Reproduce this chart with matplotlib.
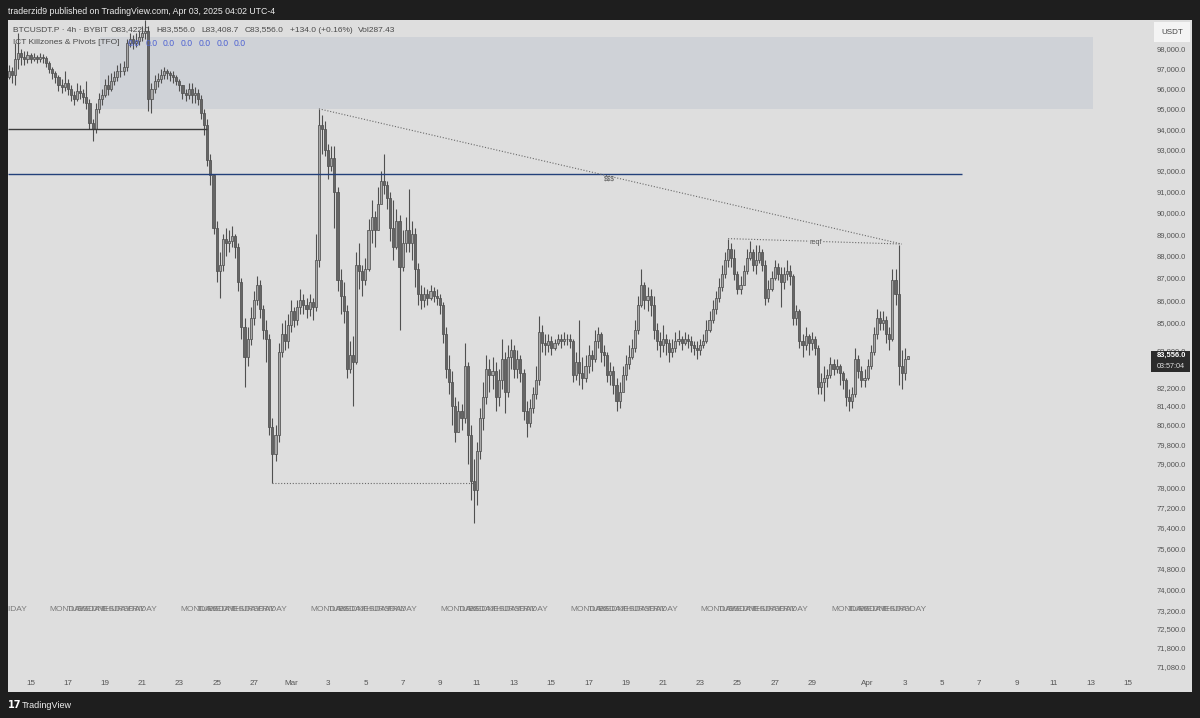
import numpy as np
import pandas as pd
import matplotlib
matplotlib.use("Agg")
import matplotlib.pyplot as plt
from matplotlib.patches import Rectangle
from matplotlib.ticker import FixedLocator, FuncFormatter, NullLocator

# ---------------- data (BTCUSDT.P 4h, Bybit) ----------------
first_open = 96600
closes = [
    96900, 96700, 97500, 97800, 97600, 97500, 97700, 97500, 97600, 97500,
    97600, 97550, 97300, 97000, 96800, 96600, 96200, 96100, 96300, 96000,
    95700, 95500, 95900, 95800, 95600, 95300, 94300, 94000, 95000, 95500,
    95700, 96200, 96000, 96400, 96600, 96900, 96900, 97100, 98300, 98500,
    98300, 98400, 98600, 98800, 98900, 95500, 96000, 96400, 96500, 96700,
    96900, 96800, 96700, 96600, 96400, 96200, 95800, 95700, 96000, 95700,
    95800, 95500, 94800, 94200, 92500, 91800, 89300, 87300, 87600, 88800,
    88600, 88700, 88900, 88400, 86800, 84800, 83500, 84300, 85200, 86000,
    86700, 85600, 84700, 84300, 80500, 79400, 80200, 83700, 84500, 84200,
    84900, 85500, 85100, 85700, 86000, 85800, 85600, 85900, 85700, 87800,
    94200, 94000, 93000, 92200, 92600, 91000, 86900, 86200, 85500, 83000,
    83600, 83300, 87600, 87300, 86900, 87400, 89200, 89800, 89200, 90400,
    91500, 91300, 90700, 89300, 88400, 89600, 87500, 88600, 89200, 88600,
    89000, 87400, 86300, 86000, 86300, 86100, 86400, 86200, 86100, 85800,
    84500, 83000, 82400, 81400, 80300, 81200, 80900, 83100, 80200, 78300,
    77900, 79500, 80900, 81800, 83000, 82700, 82900, 81800, 82500, 83400,
    82000, 83500, 83800, 83000, 83400, 82800, 81200, 80700, 81300, 81900,
    82500, 84600, 84100, 84000, 84200, 83900, 84100, 84300, 84200, 84300,
    84300, 84200, 82700, 83300, 82800, 82600, 83100, 83600, 83400, 84200,
    84500, 83700, 83600, 82700, 82900, 82300, 81600, 82000, 82700, 83200,
    83500, 83900, 84700, 85800, 86700, 86000, 86200, 85800, 84700, 84200,
    84000, 84300, 84100, 83700, 83900, 84200, 84300, 84100, 84300, 84200,
    84000, 83900, 83800, 84000, 84200, 84700, 85100, 85600, 86100, 86600,
    87200, 87800, 88300, 87900, 87200, 86500, 86700, 87300, 87900, 88200,
    87600, 87800, 88200, 87600, 86100, 86500, 87000, 87500, 87200, 86800,
    87200, 87300, 87100, 85200, 85500, 84200, 84000, 84400, 84100, 84300,
    83900, 82200, 82400, 82600, 82700, 83200, 83000, 83100, 82800, 82500,
    81800, 81600, 81900, 83400, 82900, 82500, 82600, 83100, 83700, 84500,
    85200, 85000, 85100, 84500, 84300, 86900, 86300, 83100, 82800, 83422,
    83556,
]
highs = [
    97200, 97100, 98300, 98800, 98000, 97900, 97900, 97800, 97800, 97700,
    97800, 97750, 97650, 97400, 97100, 96900, 96700, 96500, 96900, 96500,
    96200, 95900, 96300, 96200, 96000, 96400, 95500, 94500, 95300, 95800,
    96000, 96500, 96700, 96800, 96900, 97200, 97300, 97400, 98500, 98800,
    98700, 98800, 98900, 99200, 99500, 99200, 96300, 96700, 96800, 97000,
    97100, 97000, 96900, 96900, 96700, 96500, 96200, 96000, 96300, 96300,
    96100, 96000, 95700, 95000, 94500, 92800, 91800, 89600, 88200, 89000,
    89300, 89200, 89400, 89000, 88600, 87000, 85200, 84800, 85700, 86400,
    87100, 86900, 85800, 85100, 84500, 80900, 80600, 84100, 85000, 85100,
    85400, 86000, 85700, 86000, 86500, 86300, 86100, 86300, 86100, 89000,
    95000, 94700, 94400, 93300, 93200, 93200, 91200, 87400, 86800, 85800,
    84200, 84400, 88200, 88600, 87600, 87900, 89700, 90600, 90100, 91200,
    92000, 92800, 91500, 91000, 90600, 90200, 89900, 89200, 89800, 91100,
    89600, 89300, 87700, 86700, 86600, 86500, 86700, 86600, 86500, 86300,
    85900, 84800, 83600, 82900, 81800, 81600, 81500, 84100, 83300, 80600,
    79200, 79900, 81300, 82400, 83600, 83400, 83500, 83300, 83000, 84300,
    83700, 84000, 84300, 84000, 83800, 83600, 83000, 81600, 81700, 82200,
    83100, 85300, 84900, 84500, 84500, 84400, 84300, 84500, 84500, 84600,
    84500, 84500, 84300, 83700, 85100, 83500, 83600, 84000, 83800, 84700,
    84800, 84600, 84000, 83700, 83300, 83100, 82600, 82400, 83100, 83600,
    84000, 84300, 85100, 86200, 87400, 86800, 86600, 86500, 86200, 85000,
    84600, 84900, 84500, 84300, 84300, 84600, 84700, 84400, 84600, 84500,
    84400, 84200, 84200, 84300, 84500, 85100, 85500, 86000, 86400, 87000,
    87600, 88200, 88800, 88600, 88300, 87300, 87100, 87600, 88300, 88700,
    88300, 88500, 88500, 88300, 87800, 86900, 87300, 87800, 87700, 87500,
    87500, 87800, 87600, 87200, 85800, 85600, 84500, 84800, 84500, 84600,
    84400, 84000, 82800, 83100, 83000, 83500, 83400, 83400, 83200, 82900,
    82600, 82100, 82200, 83900, 83600, 83100, 83000, 83400, 84000, 84800,
    85600, 85500, 85500, 85300, 84800, 87400, 87400, 88500, 83800, 83900,
    83556,
]
lows = [
    96500, 96300, 96200, 97000, 97200, 97200, 97300, 97300, 97400, 97300,
    97350, 97300, 97100, 96800, 96500, 96300, 95900, 95800, 95900, 95700,
    95400, 95200, 95400, 95500, 95300, 95000, 94000, 93400, 93800, 94800,
    95200, 95600, 95700, 95900, 96200, 96400, 96600, 96700, 96900, 98100,
    98000, 98100, 98200, 98400, 98500, 94900, 94800, 95800, 96100, 96300,
    96500, 96500, 96400, 96300, 96200, 95900, 95500, 95400, 95500, 95300,
    95300, 95200, 94500, 93700, 92200, 91300, 89000, 86800, 86100, 87300,
    88000, 88200, 88400, 87900, 86400, 84300, 82200, 83100, 84000, 84900,
    85800, 85200, 84300, 83300, 80200, 78200, 79100, 79900, 83500, 83800,
    83900, 84600, 84800, 84900, 85400, 85400, 85200, 85300, 85100, 85500,
    87500, 92800, 92700, 91600, 92000, 89300, 86400, 85400, 85000, 82600,
    82800, 81400, 83200, 86500, 86200, 86700, 87300, 88600, 88400, 89200,
    90500, 90900, 90200, 88700, 87800, 88300, 84700, 87300, 88200, 88200,
    87800, 86600, 85800, 85600, 85700, 85800, 86000, 85900, 85800, 85400,
    84100, 82600, 81900, 80600, 79900, 80300, 80400, 80700, 79000, 77500,
    76600, 77300, 79200, 80400, 81500, 82000, 82100, 81200, 81400, 82100,
    81100, 81800, 83000, 82600, 82600, 82400, 80800, 80100, 80500, 81100,
    81700, 82300, 83700, 83600, 83700, 83600, 83800, 84000, 83900, 84000,
    84000, 83900, 82400, 82500, 82300, 82100, 82400, 82800, 82900, 83300,
    83900, 83300, 83100, 82400, 82300, 81900, 81200, 81300, 82300, 82500,
    83000, 83400, 83700, 84500, 85700, 85600, 85500, 85300, 84300, 83800,
    83500, 83700, 83600, 83300, 83500, 83700, 84000, 83800, 84000, 83900,
    83700, 83600, 83400, 83600, 83900, 84100, 84600, 85000, 85400, 85900,
    86400, 87000, 87500, 87500, 86900, 86300, 86300, 86800, 87200, 87800,
    87300, 87200, 87700, 87300, 85800, 85900, 86400, 86900, 86900, 85700,
    86500, 86900, 86700, 84900, 84900, 83900, 83500, 83800, 83600, 83800,
    83600, 81900, 81900, 81600, 82200, 82600, 82700, 82800, 82300, 82100,
    81400, 81200, 81300, 81800, 82600, 82200, 82200, 82500, 83000, 83600,
    84300, 84700, 84700, 84100, 83800, 84200, 85800, 82300, 82100, 82500,
    83408.7,
]

# time axis: candle index 0 = Feb 13 20:00 (UTC-4); one day = 6 candles
day_tick_offsets = [0, 2, 4, 6, 8, 10, 12, 14, 16, 18, 20, 22, 24, 26, 28, 30,
                    32, 34, 36, 38, 40, 42, 45, 47, 49, 51, 53, 55, 57, 59]
day_tick_labels = ["15", "17", "19", "21", "23", "25", "27", "Mar", "3", "5", "7",
                   "9", "11", "13", "15", "17", "19", "21", "23", "25", "27", "29",
                   "Apr", "3", "5", "7", "9", "11", "13", "15"]
price_ticks = [98000, 97000, 96000, 95000, 94000, 93000, 92000, 91000, 90000,
               89000, 88000, 87000, 86000, 85000, 83800, 82200, 81400, 80600,
               79800, 79000, 78000, 77200, 76400, 75600, 74800, 74000, 73200,
               72500, 71800, 71080]

# drawings
zone_low, zone_high = 95000, 98600
zone_start, zone_end = 29.4, 349.7
pivot_level, pivot_end = 94000, 64
blue_level, blue_end = 91830, 307.5
trend_x, trend_y = [100, 288], [95000, 88550]
reqf_x, reqf_y = [232, 288], [88800, 88550]
ssl_x, ssl_y = [85, 151], [78200, 78200]
last_price = 83556.0

# ---------------- figure ----------------
W, H = 1200, 718
fig = plt.figure(figsize=(12, 7.18), dpi=100, facecolor="#1e1e1e")
FONT = "Liberation Sans"


def fx(px):
    return px / W


def fy(py):
    return 1 - py / H


fig.patches.append(Rectangle((fx(8), fy(692)), (1192 - 8) / W, (692 - 20) / H,
                             transform=fig.transFigure, facecolor="#dedede",
                             edgecolor="none", zorder=-5))

ax = fig.add_axes([fx(8), fy(672), (1148 - 8) / W, (672 - 20) / H])
ax.set_facecolor("none")
ax.set_yscale("log")
ax.set_ylim(70885, 99489)
ax.set_xlim(-0.29, 367.45)
for s in ax.spines.values():
    s.set_visible(False)

o = np.array([first_open] + closes[:-1], dtype=float)
c = np.array(closes, dtype=float)
h = np.array(highs, dtype=float)
l = np.array(lows, dtype=float)
idx = np.arange(len(c))
up = c >= o

# zone
ax.add_patch(Rectangle((zone_start, zone_low), zone_end - zone_start, zone_high - zone_low,
                       facecolor="#cfd2d7", edgecolor="none", zorder=1))

wick_col = "#505050"
ax.vlines(idx, l, h, color=wick_col, lw=0.8, zorder=3)
ax.bar(idx[up], (c - o)[up], bottom=o[up], width=0.7, color="#a8a8a8",
       edgecolor=wick_col, lw=0.55, zorder=4)
ax.bar(idx[~up], (c - o)[~up], bottom=o[~up], width=0.7, color="#666666",
       edgecolor=wick_col, lw=0.55, zorder=4)

# lines
ax.hlines(pivot_level, -0.3, pivot_end, color="#3c3c3c", lw=1.0, zorder=5)
ax.hlines(blue_level, -0.3, blue_end, color="#23407a", lw=1.0, zorder=5)
dot = (0, (1, 1.6))
ax.plot(trend_x, trend_y, color="#6a6a6a", lw=0.8, ls=dot, zorder=5)
ax.plot(reqf_x, reqf_y, color="#6a6a6a", lw=0.8, ls=dot, zorder=5)
ax.plot(ssl_x, ssl_y, color="#6a6a6a", lw=0.8, ls=dot, zorder=5)
ax.text(260.4, 88640, "reqf", fontsize=5.2, family=FONT, color="#555555",
        ha="center", va="center", zorder=6,
        bbox=dict(facecolor="#dedede", edgecolor="none", pad=0.6))
ax.text(193.6, 91600, "$$$", fontsize=4.8, family=FONT, color="#555555",
        ha="center", va="center", zorder=6)

# weekday labels (ICT killzones indicator)
days = pd.date_range("2025-02-14", "2025-04-03", freq="D")
wd_y = 73240
for k, d in enumerate(days):
    if d.weekday() < 5:
        ax.text(1 + 6 * k, wd_y, d.day_name().upper(), fontsize=6.0, family=FONT,
                color="#7a7a7a", ha="center", va="center", zorder=2, clip_on=True)

# axes ticks
ax.xaxis.set_major_locator(FixedLocator([7 + 6 * d for d in day_tick_offsets]))
ax.set_xticklabels(day_tick_labels)
ax.tick_params(axis="x", length=0, pad=6.0, labelsize=5.8, labelcolor="#555555")
ax.yaxis.set_major_locator(FixedLocator(price_ticks))
ax.yaxis.set_minor_locator(NullLocator())
ax.yaxis.set_major_formatter(FuncFormatter(lambda v, p: f"{v:,.1f}"))
ax.yaxis.tick_right()
ax.tick_params(axis="y", length=0, pad=27.4, labelsize=5.5, labelcolor="#555555")
for t in ax.get_yticklabels() + ax.get_xticklabels():
    t.set_family(FONT)
for t in ax.get_yticklabels():
    t.set_ha("right")

# price label on axis
fig.patches.append(Rectangle((fx(1151), fy(372)), 39 / W, 21 / H, transform=fig.transFigure,
                             facecolor="#2b2b2b", edgecolor="none", zorder=10))
fig.text(fx(1171), fy(355.5), f"{last_price:,.1f}", fontsize=5.4, family=FONT,
         color="white", ha="center", va="center", zorder=11, weight="bold")
fig.text(fx(1171), fy(366), "03:57:04", fontsize=5.2, family=FONT,
         color="#e0e0e0", ha="center", va="center", zorder=11)

# USDT box
fig.patches.append(Rectangle((fx(1154), fy(42)), 36 / W, 20 / H, transform=fig.transFigure,
                             facecolor="#f4f4f4", edgecolor="none", zorder=10))
fig.text(fx(1172), fy(32), "USDT", fontsize=5.8, family=FONT, color="#444444",
         ha="center", va="center", zorder=11)

# header
fig.text(fx(8), fy(11), "traderzid9 published on TradingView.com, Apr 03, 2025 04:02 UTC-4",
         fontsize=6.3, family=FONT, color="#ececec", ha="left", va="center")

# legend lines
leg1 = [(13, "BTCUSDT.P \u00b7 4h \u00b7 BYBIT"), (111, "O83,422.0"), (156, "H83,556.0"),
        (201, "L83,408.7"), (245, "C83,556.0"), (290, "+134.0 (+0.16%)"), (358, "Vol287.43")]
for xp, s in leg1:
    fig.text(fx(xp), fy(30), s, fontsize=6.0, family=FONT, color="#4a4a4a",
             ha="left", va="center", zorder=12)
fig.text(fx(13), fy(43), "ICT Killzones & Pivots [TFO]", fontsize=6.0, family=FONT,
         color="#4a4a4a", ha="left", va="center", zorder=12)
for xp in [128, 146, 163, 181, 199, 217, 234]:
    fig.text(fx(xp), fy(43), "0.0", fontsize=6.2, family=FONT, color="#4f63d2",
             ha="left", va="center", zorder=12)

# footer logo
fig.text(fx(8), fy(705), "17", fontsize=7, family="DejaVu Sans", weight="bold",
         color="white", ha="left", va="center")
fig.text(fx(22), fy(705), "TradingView", fontsize=6.5, family=FONT,
         color="#f0f0f0", ha="left", va="center")

fig.savefig("out.png", dpi=100, facecolor=fig.get_facecolor())
